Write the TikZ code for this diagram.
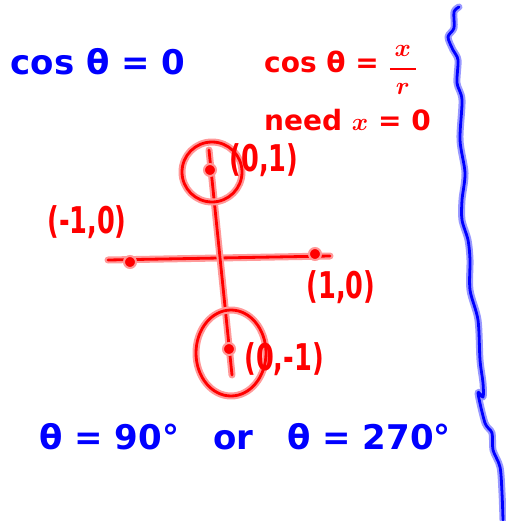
\documentclass[tikz,border=0pt]{standalone}
\usepackage{amsmath}
\usepackage{fontspec}
\setmainfont{DejaVu Sans}

\begin{document}
\begin{tikzpicture}[
    x=1pt, y=-1pt,
    bluepen/.style={draw=blue, line width=2.8pt, line cap=round, line join=round, preaction={draw=blue!40, line width=7pt, line cap=round, line join=round}},
    redpen/.style={draw=red, line width=2.8pt, line cap=round, line join=round, preaction={draw=red!40, line width=7pt, line cap=round, line join=round}},
    bluetext/.style={text=blue, inner sep=0pt, font=\fontsize{34}{34}\selectfont\bfseries\boldmath},
    redtext/.style={text=red, inner sep=0pt, font=\fontsize{28}{28}\selectfont\bfseries\boldmath},
    pointlabel/.style={redtext, font=\fontsize{32}{32}\selectfont\bfseries},
    dot/.style={circle, fill=red, draw=red!40, line width=2pt, inner sep=0pt, minimum size=12pt}
  ]
    \useasboundingbox (0,0) rectangle (505,521);

    % Blue working - the question
    \node[bluetext] (question) at (98,62) {cos θ = 0};

    % Red working - definition and condition
    \node[redtext, anchor=west] (definition) at (264,70) {cos θ = \raisebox{-3pt}{\fontsize{40}{40}\selectfont$\displaystyle\genfrac{}{}{2.4pt}{0}{\,x\,}{r}$}};
    \node[redtext, anchor=west] (condition) at (264,120) {need $x$ = 0};

    % Axes end points
    \coordinate (left) at (108,260);
    \coordinate (right) at (330,256);
    \coordinate (top) at (209,150);
    \coordinate (bottom) at (232,375);

    % Axes
    \draw[redpen] (left) -- (right);
    \draw[redpen] (top) -- (bottom);

    % Points on the unit circle
    \node[dot] (ptop) at (210,170) {};
    \node[dot] (pright) at (315,254) {};
    \node[dot] (pleft) at (130,262) {};
    \node[dot] (pbottom) at (229,349) {};

    % Circled answers
    \draw[redpen] (212,172) circle[radius=30];
    \draw[redpen] (231,353) ellipse[x radius=35, y radius=43];

    % Point labels
    \node[pointlabel] (ltop) at (264,160) {\scalebox{0.8}[1.15]{(0,1)}};
    \node[pointlabel] (lleft) at (87,222) {\scalebox{0.8}[1.15]{(-1,0)}};
    \node[pointlabel] (lright) at (341,287) {\scalebox{0.8}[1.15]{(1,0)}};
    \node[pointlabel] (lbottom) at (284,359) {\scalebox{0.8}[1.15]{(0,-1)}};

    % Blue answer
    \node[bluetext] (answer) at (245,437) {θ = 90°\quad or\quad θ = 270°};

    % Margin line
    \draw[bluepen] plot[smooth] coordinates {(459,7) (454,12) (454,28) (448,37) (453,50) (458,60) (457,83) (462,100) (460,140) (465,173) (462,200) (462,220) (468,240) (470,260) (470,290) (478,320) (480,360) (483,383) (483,397) (478,393) (485,423) (492,433) (493,450) (500,467) (502,493) (503,520)};

  \end{tikzpicture}
\end{document}
